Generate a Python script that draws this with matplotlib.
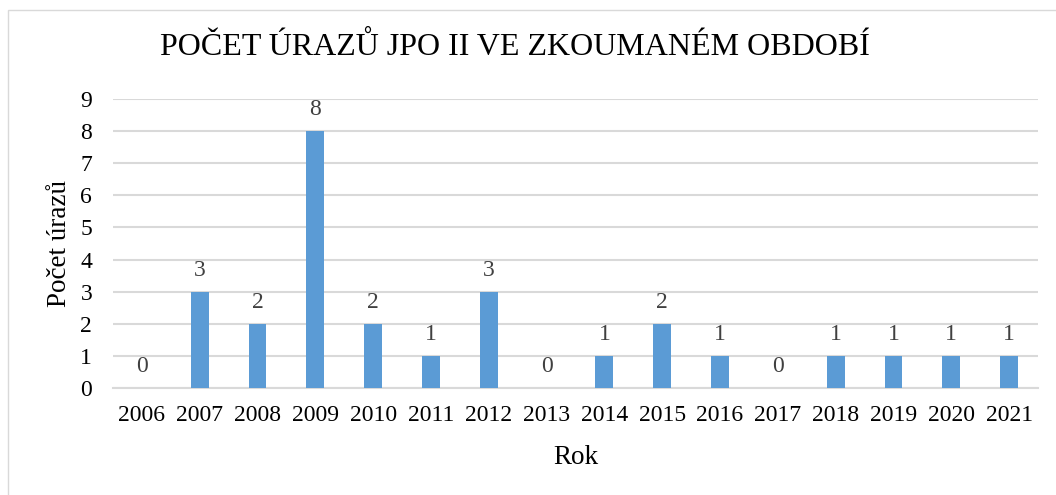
import matplotlib.pyplot as plt
from matplotlib.patches import Rectangle

years = ["2006", "2007", "2008", "2009", "2010", "2011", "2012", "2013",
         "2014", "2015", "2016", "2017", "2018", "2019", "2020", "2021"]
counts = [0, 3, 2, 8, 2, 1, 3, 0, 1, 2, 1, 0, 1, 1, 1, 1]
yticks = [0, 1, 2, 3, 4, 5, 6, 7, 8, 9]

plt.rcParams['font.family'] = ['Liberation Serif', 'DejaVu Serif']

fig = plt.figure(figsize=(10.56, 4.95), dpi=100)
ax = fig.add_axes([0.107, 0.216, 0.876, 0.584])

x = range(len(years))
bars = ax.bar(x, counts, width=0.31, color='#5B9BD5', zorder=3)

# value labels above bars
for xi, v in zip(x, counts):
    ax.annotate(str(v), (xi, v), xytext=(0, 8), textcoords='offset points',
                ha='center', va='bottom', fontsize=17, color='#404040')

ax.set_xlim(-0.5, len(years) - 0.5)
ax.set_ylim(0, 9)
ax.set_yticks(yticks)
ax.set_xticks(list(x))
ax.set_xticklabels(years)
ax.tick_params(axis='both', length=0, labelsize=17, colors='black')
ax.tick_params(axis='x', pad=12)
ax.tick_params(axis='y', pad=15)
ax.grid(axis='y', color='#d9d9d9', linewidth=1.5, zorder=0)
for s in ['top', 'right', 'left']:
    ax.spines[s].set_visible(False)
ax.spines['bottom'].set_color('#d9d9d9')
ax.spines['bottom'].set_linewidth(1.5)

ax.set_xlabel("Rok", fontsize=19.5, labelpad=14)
ax.set_ylabel("Počet úrazů", fontsize=19.5, labelpad=6)
fig.text(0.488, 0.904, "POČET ÚRAZŮ JPO II VE ZKOUMANÉM OBDOBÍ",
         ha='center', va='center', fontsize=23)

# light frame around the chart (runs off the right and bottom edges)
fig.patches.append(Rectangle((0.0076, -0.1), 1.1, 1.08, transform=fig.transFigure,
                             fill=False, edgecolor='#d9d9d9', linewidth=1))

fig.savefig("out.png", dpi=100)
